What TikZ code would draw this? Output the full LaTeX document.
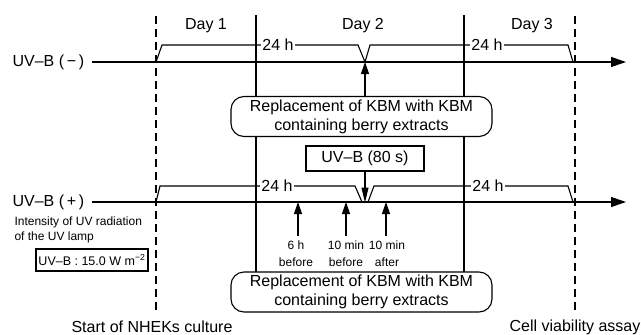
\documentclass[tikz,border=0pt]{standalone}
\usepackage{fontspec}
\setmainfont{Liberation Sans}
\usetikzlibrary{arrows.meta}
\begin{document}
\begin{tikzpicture}[x=1pt,y=-1pt,line width=1.1pt,
  big/.style={font=\fontsize{16}{19}\selectfont,inner sep=0pt},
  small/.style={font=\fontsize{12}{15}\selectfont,inner sep=0pt},
  lab/.style={font=\fontsize{12}{17}\selectfont,inner sep=0pt,align=center},
  rbox/.style={draw,rounded corners=13pt,fill=white,minimum width=261pt,minimum height=40pt,
    align=center,inner sep=0pt,font=\fontsize{16}{19}\selectfont},
  dline/.style={dash pattern=on 8pt off 5pt},
  hl/.style={fill=white,inner xsep=1.5pt,inner ysep=0pt,font=\fontsize{16}{19}\selectfont},
  tarr/.style={-{Triangle[length=15pt,width=10pt]}},
  uarr/.style={-{Triangle[length=12pt,width=8pt]}},
  darr/.style={-{Triangle[length=15pt,width=7pt]}}]
\useasboundingbox (0,0) rectangle (641,335);
% day labels
\node[big] (day1) at (206,26) {Day 1};
\node[big] (day2) at (363,26) {Day 2};
\node[big] (day3) at (532,26) {Day 3};
% vertical lines
\coordinate (d1t) at (156,16); \coordinate (d1b) at (156,313);
\coordinate (d2t) at (575,16); \coordinate (d2b) at (575,313);
\coordinate (s1t) at (256,15); \coordinate (s1b) at (256,272);
\coordinate (s2t) at (464,15); \coordinate (s2b) at (464,272);
\draw[dline] (d1t) -- (d1b);
\draw[dline] (d2t) -- (d2b);
\draw (s1t) -- (s1b);
\draw (s2t) -- (s2b);
% top timeline
\node[big,anchor=west] (minus) at (12,62) {UV–B (\,−\,)};
\coordinate (tS) at (92,62); \coordinate (tE) at (626,62);
\draw[tarr] (tS) -- (tE);
\draw (156,62) -- (162,45) -- (358,45) -- (365,62) -- (370,45) -- (568,45) -- (573,62);
\node[hl] (h1) at (278,45) {24 h};
\node[hl] (h2) at (487,45) {24 h};
% bottom timeline
\node[big,anchor=west] (plus) at (12,202) {UV–B (\,+\,)};
\coordinate (bS) at (92,202); \coordinate (bE) at (626,202);
\draw[tarr] (bS) -- (bE);
\draw (156,202) -- (160,186) -- (355,186) -- (362,202);
\draw (368,202) -- (374,186) -- (568,186) -- (573,202);
\node[hl] (h3) at (277,186) {24 h};
\node[hl] (h4) at (488,186) {24 h};
% boxes
\node[rbox] (repT) at (361.5,116.5) {Replacement of KBM with KBM\\containing berry extracts};
\node[rbox] (repB) at (361.5,292) {Replacement of KBM with KBM\\containing berry extracts};
\coordinate (vT) at (365,62);
\draw[uarr] (vT |- repT.north) -- (vT);
\node[draw,fill=white,minimum width=118pt,minimum height=25pt,inner sep=0pt,
  font=\fontsize{16}{19}\selectfont] (uvb) at (365,158.5) {UV–B (80 s)};
\coordinate (vB) at (365,202.5);
\draw[darr] (uvb.south) -- (vB);
% small arrows and labels
\node[lab] (l1) at (296,253.5) {6 h\\before};
\node[lab] (l2) at (346,253.5) {10 min\\before};
\node[lab] (l3) at (387,253.5) {10 min\\after};
\coordinate (a1b) at (298,236); \coordinate (a1t) at (298,202);
\coordinate (a2b) at (346,236); \coordinate (a2t) at (346,202);
\coordinate (a3b) at (386,236); \coordinate (a3t) at (386,202);
\draw[uarr] (a1b) -- (a1t);
\draw[uarr] (a2b) -- (a2t);
\draw[uarr] (a3b) -- (a3t);
% intensity
\node[small,anchor=west,align=left] (int) at (14,230) {Intensity of UV radiation\\of the UV lamp};
\node[draw,minimum width=112pt,minimum height=22pt,inner sep=0pt,
  font=\fontsize{12.5}{15}\selectfont] (lamp) at (92,260) {UV–B : 15.0 W m\textsuperscript{−2}};
% bottom labels
\node[big] (start) at (152,327) {Start of NHEKs culture};
\node[big] (cell) at (575,327) {Cell viability assay};
\end{tikzpicture}
\end{document}
